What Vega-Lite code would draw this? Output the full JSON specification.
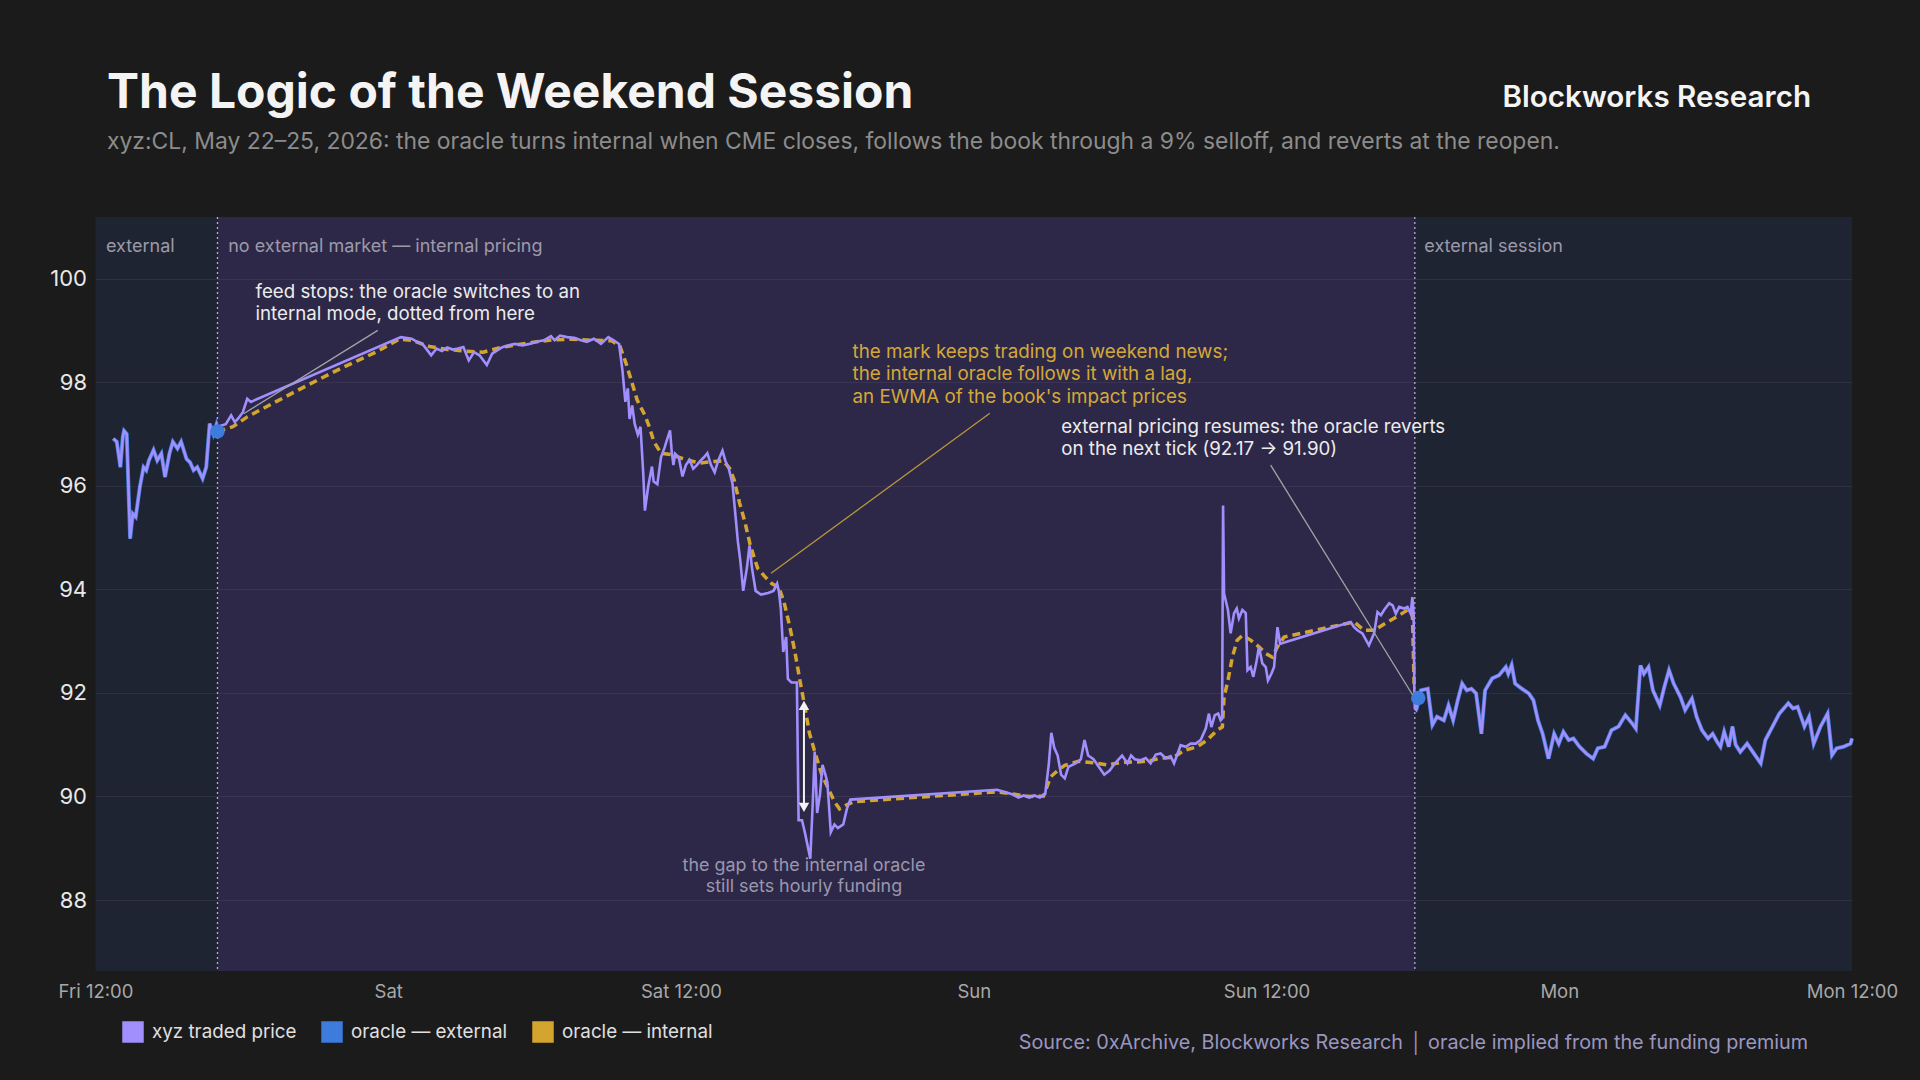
{
  "$schema": "https://vega.github.io/schema/vega-lite/v6.json",
  "width": 1756.5,
  "height": 754,
  "autosize": {"type": "none"},
  "padding": {"left": 95.5, "top": 217, "right": 68, "bottom": 109},
  "background": "#1b1b1b",
  "title": {
    "text": "The Logic of the Weekend Session",
    "subtitle": "xyz:CL, May 22\u201325, 2026: the oracle turns internal when CME closes, follows the book through a 9% selloff, and reverts at the reopen.",
    "anchor": "start",
    "frame": "group",
    "dx": 11.5,
    "dy": 133,
    "offset": 62,
    "font": "Inter",
    "fontSize": 48,
    "fontWeight": 700,
    "color": "#f4f4f4",
    "subtitleFont": "Inter",
    "subtitleFontSize": 22.9,
    "subtitleColor": "#8c8c8c",
    "subtitlePadding": 13
  },
  "datasets": {
    "price": [
      {"h": 0.73, "v": 96.91}, {"h": 0.87, "v": 96.85}, {"h": 0.95, "v": 96.6}, {"h": 1.02, "v": 96.36},
      {"h": 1.12, "v": 96.95}, {"h": 1.17, "v": 97.06}, {"h": 1.28, "v": 97.0}, {"h": 1.42, "v": 94.98},
      {"h": 1.53, "v": 95.46}, {"h": 1.65, "v": 95.4}, {"h": 1.82, "v": 95.98}, {"h": 1.97, "v": 96.36},
      {"h": 2.08, "v": 96.3}, {"h": 2.19, "v": 96.49}, {"h": 2.38, "v": 96.69}, {"h": 2.53, "v": 96.49},
      {"h": 2.7, "v": 96.62}, {"h": 2.85, "v": 96.17}, {"h": 3.03, "v": 96.62}, {"h": 3.17, "v": 96.85},
      {"h": 3.36, "v": 96.72}, {"h": 3.51, "v": 96.85}, {"h": 3.73, "v": 96.52}, {"h": 3.88, "v": 96.45},
      {"h": 4.02, "v": 96.3}, {"h": 4.17, "v": 96.36}, {"h": 4.39, "v": 96.14}, {"h": 4.54, "v": 96.36},
      {"h": 4.68, "v": 97.2}, {"h": 4.83, "v": 97.0}, {"h": 4.95, "v": 97.17}, {"h": 5.0, "v": 97.05},
      {"h": 5.05, "v": 97.15}, {"h": 5.34, "v": 97.19}, {"h": 5.56, "v": 97.36}, {"h": 5.71, "v": 97.23},
      {"h": 5.85, "v": 97.3}, {"h": 6.04, "v": 97.42}, {"h": 6.22, "v": 97.68}, {"h": 6.37, "v": 97.62},
      {"h": 6.51, "v": 97.65}, {"h": 12.52, "v": 98.87}, {"h": 12.96, "v": 98.84}, {"h": 13.18, "v": 98.78},
      {"h": 13.4, "v": 98.74}, {"h": 13.6, "v": 98.62}, {"h": 13.76, "v": 98.52}, {"h": 13.98, "v": 98.65},
      {"h": 14.2, "v": 98.6}, {"h": 14.42, "v": 98.67}, {"h": 14.64, "v": 98.63}, {"h": 14.86, "v": 98.65},
      {"h": 15.08, "v": 98.68}, {"h": 15.3, "v": 98.42}, {"h": 15.52, "v": 98.58}, {"h": 15.74, "v": 98.52},
      {"h": 16.04, "v": 98.33}, {"h": 16.26, "v": 98.55}, {"h": 16.48, "v": 98.62}, {"h": 16.7, "v": 98.68},
      {"h": 16.91, "v": 98.71}, {"h": 17.2, "v": 98.74}, {"h": 17.5, "v": 98.71}, {"h": 17.79, "v": 98.74},
      {"h": 18.08, "v": 98.78}, {"h": 18.38, "v": 98.81}, {"h": 18.67, "v": 98.89}, {"h": 18.82, "v": 98.81},
      {"h": 19.04, "v": 98.9}, {"h": 19.33, "v": 98.87}, {"h": 19.62, "v": 98.86}, {"h": 19.9, "v": 98.81},
      {"h": 20.14, "v": 98.78}, {"h": 20.43, "v": 98.84}, {"h": 20.72, "v": 98.74}, {"h": 21.02, "v": 98.87},
      {"h": 21.24, "v": 98.81}, {"h": 21.46, "v": 98.74}, {"h": 21.6, "v": 98.23}, {"h": 21.72, "v": 97.62},
      {"h": 21.82, "v": 97.88}, {"h": 21.89, "v": 97.29}, {"h": 22.0, "v": 97.55}, {"h": 22.1, "v": 97.2},
      {"h": 22.23, "v": 96.99}, {"h": 22.34, "v": 97.14}, {"h": 22.45, "v": 96.26}, {"h": 22.52, "v": 95.52},
      {"h": 22.66, "v": 96.0}, {"h": 22.81, "v": 96.37}, {"h": 22.88, "v": 96.08}, {"h": 23.03, "v": 96.03},
      {"h": 23.18, "v": 96.55}, {"h": 23.33, "v": 96.74}, {"h": 23.4, "v": 96.85}, {"h": 23.55, "v": 97.07},
      {"h": 23.62, "v": 96.66}, {"h": 23.69, "v": 96.4}, {"h": 23.76, "v": 96.62}, {"h": 23.91, "v": 96.55},
      {"h": 24.06, "v": 96.18}, {"h": 24.2, "v": 96.4}, {"h": 24.35, "v": 96.5}, {"h": 24.5, "v": 96.33},
      {"h": 24.65, "v": 96.4}, {"h": 24.79, "v": 96.48}, {"h": 24.94, "v": 96.55}, {"h": 25.08, "v": 96.63},
      {"h": 25.23, "v": 96.4}, {"h": 25.38, "v": 96.26}, {"h": 25.52, "v": 96.48}, {"h": 25.7, "v": 96.68},
      {"h": 25.82, "v": 96.48}, {"h": 25.96, "v": 96.33}, {"h": 26.11, "v": 96.04}, {"h": 26.23, "v": 95.44},
      {"h": 26.33, "v": 94.93}, {"h": 26.43, "v": 94.56}, {"h": 26.55, "v": 93.97}, {"h": 26.7, "v": 94.41},
      {"h": 26.81, "v": 94.85}, {"h": 26.91, "v": 94.41}, {"h": 27.06, "v": 93.97}, {"h": 27.28, "v": 93.9},
      {"h": 27.57, "v": 93.93}, {"h": 27.79, "v": 93.97}, {"h": 27.94, "v": 94.11}, {"h": 28.01, "v": 93.97},
      {"h": 28.09, "v": 93.64}, {"h": 28.19, "v": 92.79}, {"h": 28.31, "v": 93.08}, {"h": 28.38, "v": 92.27},
      {"h": 28.53, "v": 92.2}, {"h": 28.75, "v": 92.2}, {"h": 28.82, "v": 89.54}, {"h": 28.96, "v": 89.54},
      {"h": 29.08, "v": 89.3}, {"h": 29.3, "v": 88.8}, {"h": 29.41, "v": 89.98}, {"h": 29.48, "v": 90.87},
      {"h": 29.58, "v": 89.68}, {"h": 29.7, "v": 90.05}, {"h": 29.8, "v": 90.61}, {"h": 29.92, "v": 90.42},
      {"h": 30.0, "v": 90.27}, {"h": 30.14, "v": 89.31}, {"h": 30.29, "v": 89.46}, {"h": 30.43, "v": 89.39},
      {"h": 30.65, "v": 89.46}, {"h": 30.8, "v": 89.76}, {"h": 30.94, "v": 89.94}, {"h": 36.95, "v": 90.13},
      {"h": 37.24, "v": 90.09}, {"h": 37.54, "v": 90.05}, {"h": 37.83, "v": 89.98}, {"h": 38.05, "v": 90.02},
      {"h": 38.27, "v": 89.98}, {"h": 38.49, "v": 90.02}, {"h": 38.71, "v": 89.98}, {"h": 38.93, "v": 90.05},
      {"h": 39.08, "v": 90.64}, {"h": 39.18, "v": 91.23}, {"h": 39.3, "v": 90.94}, {"h": 39.44, "v": 90.79},
      {"h": 39.58, "v": 90.42}, {"h": 39.73, "v": 90.35}, {"h": 39.88, "v": 90.57}, {"h": 40.17, "v": 90.64},
      {"h": 40.39, "v": 90.72}, {"h": 40.54, "v": 91.09}, {"h": 40.69, "v": 90.79}, {"h": 40.91, "v": 90.72},
      {"h": 41.13, "v": 90.57}, {"h": 41.35, "v": 90.42}, {"h": 41.57, "v": 90.5}, {"h": 41.79, "v": 90.64},
      {"h": 42.08, "v": 90.79}, {"h": 42.3, "v": 90.64}, {"h": 42.45, "v": 90.79}, {"h": 42.6, "v": 90.72},
      {"h": 42.84, "v": 90.7}, {"h": 43.05, "v": 90.74}, {"h": 43.25, "v": 90.64}, {"h": 43.46, "v": 90.81},
      {"h": 43.66, "v": 90.83}, {"h": 43.87, "v": 90.74}, {"h": 44.07, "v": 90.78}, {"h": 44.21, "v": 90.64},
      {"h": 44.48, "v": 90.99}, {"h": 44.69, "v": 90.96}, {"h": 44.89, "v": 91.02}, {"h": 45.1, "v": 91.02},
      {"h": 45.3, "v": 91.09}, {"h": 45.51, "v": 91.31}, {"h": 45.64, "v": 91.6}, {"h": 45.74, "v": 91.34},
      {"h": 45.88, "v": 91.57}, {"h": 46.02, "v": 91.6}, {"h": 46.12, "v": 91.47}, {"h": 46.18, "v": 91.5},
      {"h": 46.22, "v": 95.62}, {"h": 46.26, "v": 93.92}, {"h": 46.42, "v": 93.6}, {"h": 46.53, "v": 93.15},
      {"h": 46.67, "v": 93.54}, {"h": 46.78, "v": 93.63}, {"h": 46.87, "v": 93.44}, {"h": 47.01, "v": 93.6},
      {"h": 47.15, "v": 93.54}, {"h": 47.22, "v": 92.44}, {"h": 47.35, "v": 92.5}, {"h": 47.46, "v": 92.31},
      {"h": 47.6, "v": 92.63}, {"h": 47.69, "v": 92.89}, {"h": 47.83, "v": 92.57}, {"h": 47.97, "v": 92.5},
      {"h": 48.06, "v": 92.24}, {"h": 48.2, "v": 92.37}, {"h": 48.31, "v": 92.5}, {"h": 48.45, "v": 93.27},
      {"h": 48.56, "v": 92.95}, {"h": 51.45, "v": 93.37}, {"h": 51.59, "v": 93.27}, {"h": 51.73, "v": 93.21},
      {"h": 51.93, "v": 93.15}, {"h": 52.2, "v": 92.92}, {"h": 52.41, "v": 93.15}, {"h": 52.55, "v": 93.56},
      {"h": 52.69, "v": 93.5}, {"h": 52.82, "v": 93.6}, {"h": 53.03, "v": 93.73}, {"h": 53.17, "v": 93.69},
      {"h": 53.3, "v": 93.53}, {"h": 53.44, "v": 93.66}, {"h": 53.64, "v": 93.63}, {"h": 53.78, "v": 93.66},
      {"h": 53.91, "v": 93.53}, {"h": 53.98, "v": 93.85}, {"h": 54.03, "v": 93.53}, {"h": 54.06, "v": 92.05},
      {"h": 54.08, "v": 91.7}, {"h": 54.14, "v": 91.67}, {"h": 54.33, "v": 92.05}, {"h": 54.61, "v": 92.08},
      {"h": 54.8, "v": 91.38}, {"h": 54.99, "v": 91.54}, {"h": 55.27, "v": 91.47}, {"h": 55.46, "v": 91.76},
      {"h": 55.65, "v": 91.47}, {"h": 55.84, "v": 91.86}, {"h": 56.02, "v": 92.18}, {"h": 56.21, "v": 92.05},
      {"h": 56.4, "v": 92.08}, {"h": 56.59, "v": 91.99}, {"h": 56.81, "v": 91.21}, {"h": 56.96, "v": 92.05},
      {"h": 57.25, "v": 92.28}, {"h": 57.53, "v": 92.34}, {"h": 57.81, "v": 92.5}, {"h": 57.91, "v": 92.37},
      {"h": 58.05, "v": 92.54}, {"h": 58.19, "v": 92.18}, {"h": 58.47, "v": 92.08}, {"h": 58.75, "v": 91.99},
      {"h": 58.94, "v": 91.86}, {"h": 59.13, "v": 91.47}, {"h": 59.32, "v": 91.21}, {"h": 59.56, "v": 90.73},
      {"h": 59.79, "v": 91.21}, {"h": 59.98, "v": 91.02}, {"h": 60.17, "v": 91.25}, {"h": 60.39, "v": 91.09},
      {"h": 60.58, "v": 91.12}, {"h": 60.83, "v": 90.96}, {"h": 61.11, "v": 90.83}, {"h": 61.39, "v": 90.73},
      {"h": 61.58, "v": 90.93}, {"h": 61.86, "v": 90.96}, {"h": 62.14, "v": 91.28}, {"h": 62.43, "v": 91.35},
      {"h": 62.71, "v": 91.57}, {"h": 62.99, "v": 91.41}, {"h": 63.14, "v": 91.31}, {"h": 63.33, "v": 92.53},
      {"h": 63.47, "v": 92.37}, {"h": 63.66, "v": 92.5}, {"h": 63.84, "v": 92.05}, {"h": 64.12, "v": 91.76},
      {"h": 64.31, "v": 92.12}, {"h": 64.5, "v": 92.44}, {"h": 64.69, "v": 92.18}, {"h": 64.97, "v": 91.92},
      {"h": 65.16, "v": 91.67}, {"h": 65.44, "v": 91.89}, {"h": 65.63, "v": 91.54}, {"h": 65.85, "v": 91.28},
      {"h": 66.1, "v": 91.12}, {"h": 66.29, "v": 91.21}, {"h": 66.48, "v": 91.05}, {"h": 66.61, "v": 90.96},
      {"h": 66.76, "v": 91.25}, {"h": 66.95, "v": 90.96}, {"h": 67.1, "v": 91.35}, {"h": 67.23, "v": 91.0},
      {"h": 67.42, "v": 90.86}, {"h": 67.7, "v": 91.02}, {"h": 67.98, "v": 90.83}, {"h": 68.26, "v": 90.64},
      {"h": 68.45, "v": 91.09}, {"h": 68.74, "v": 91.35}, {"h": 69.02, "v": 91.6}, {"h": 69.39, "v": 91.8},
      {"h": 69.58, "v": 91.7}, {"h": 69.77, "v": 91.73}, {"h": 70.05, "v": 91.35}, {"h": 70.24, "v": 91.54},
      {"h": 70.43, "v": 91.02}, {"h": 70.71, "v": 91.35}, {"h": 71.0, "v": 91.6}, {"h": 71.18, "v": 90.8},
      {"h": 71.37, "v": 90.93}, {"h": 71.65, "v": 90.96}, {"h": 71.94, "v": 91.02}, {"h": 72.0, "v": 91.12}
    ],
    "internal": [
      {"h": 5.0, "v": 97.05}, {"h": 5.63, "v": 97.14}, {"h": 6.22, "v": 97.33}, {"h": 7.1, "v": 97.55},
      {"h": 8.56, "v": 97.91}, {"h": 10.03, "v": 98.26}, {"h": 11.49, "v": 98.58}, {"h": 12.45, "v": 98.83},
      {"h": 12.96, "v": 98.81}, {"h": 13.69, "v": 98.69}, {"h": 14.42, "v": 98.63}, {"h": 15.16, "v": 98.6},
      {"h": 15.89, "v": 98.58}, {"h": 16.62, "v": 98.67}, {"h": 17.35, "v": 98.73}, {"h": 18.09, "v": 98.78},
      {"h": 18.82, "v": 98.82}, {"h": 19.55, "v": 98.83}, {"h": 20.28, "v": 98.81}, {"h": 21.16, "v": 98.8},
      {"h": 21.5, "v": 98.69}, {"h": 21.75, "v": 98.36}, {"h": 22.01, "v": 97.96}, {"h": 22.2, "v": 97.66},
      {"h": 22.52, "v": 97.36}, {"h": 22.7, "v": 97.14}, {"h": 22.89, "v": 96.85}, {"h": 23.18, "v": 96.63},
      {"h": 23.62, "v": 96.6}, {"h": 24.21, "v": 96.5}, {"h": 24.79, "v": 96.44}, {"h": 25.38, "v": 96.47},
      {"h": 25.74, "v": 96.48}, {"h": 26.0, "v": 96.33}, {"h": 26.18, "v": 96.11}, {"h": 26.4, "v": 95.67},
      {"h": 26.62, "v": 95.3}, {"h": 26.84, "v": 94.85}, {"h": 27.14, "v": 94.41}, {"h": 27.43, "v": 94.25},
      {"h": 27.72, "v": 94.11}, {"h": 28.01, "v": 94.04}, {"h": 28.23, "v": 93.74}, {"h": 28.45, "v": 93.3},
      {"h": 28.67, "v": 92.79}, {"h": 28.89, "v": 92.2}, {"h": 29.07, "v": 91.75}, {"h": 29.26, "v": 91.23},
      {"h": 29.48, "v": 90.87}, {"h": 29.77, "v": 90.42}, {"h": 30.06, "v": 90.13}, {"h": 30.29, "v": 89.9},
      {"h": 30.5, "v": 89.76}, {"h": 30.8, "v": 89.84}, {"h": 31.09, "v": 89.9}, {"h": 36.95, "v": 90.09},
      {"h": 37.54, "v": 90.05}, {"h": 38.27, "v": 90.0}, {"h": 38.86, "v": 90.01}, {"h": 39.15, "v": 90.38},
      {"h": 39.44, "v": 90.5}, {"h": 39.73, "v": 90.6}, {"h": 40.3, "v": 90.68}, {"h": 40.9, "v": 90.65},
      {"h": 41.49, "v": 90.61}, {"h": 42.08, "v": 90.66}, {"h": 42.84, "v": 90.67}, {"h": 43.3, "v": 90.7},
      {"h": 43.66, "v": 90.74}, {"h": 44.21, "v": 90.76}, {"h": 44.62, "v": 90.89}, {"h": 45.16, "v": 90.96},
      {"h": 45.57, "v": 91.09}, {"h": 45.98, "v": 91.28}, {"h": 46.19, "v": 91.34}, {"h": 46.26, "v": 91.92},
      {"h": 46.42, "v": 92.24}, {"h": 46.6, "v": 92.69}, {"h": 46.8, "v": 93.02}, {"h": 47.01, "v": 93.11},
      {"h": 47.35, "v": 93.02}, {"h": 47.69, "v": 92.89}, {"h": 47.97, "v": 92.76}, {"h": 48.24, "v": 92.69},
      {"h": 48.45, "v": 92.89}, {"h": 48.72, "v": 93.08}, {"h": 51.59, "v": 93.37}, {"h": 52.0, "v": 93.21},
      {"h": 52.41, "v": 93.21}, {"h": 52.96, "v": 93.37}, {"h": 53.44, "v": 93.5}, {"h": 53.78, "v": 93.6},
      {"h": 53.98, "v": 93.55}, {"h": 54.05, "v": 92.17}
    ]
  },
  "layer": [
    {
      "data": {"values": [{"h": 0, "h2": 5.0}, {"h": 54.08, "h2": 72}]},
      "mark": {"type": "rect", "color": "#1f2433"},
      "encoding": {
        "x": {"field": "h", "type": "quantitative", "scale": {"domain": [0, 72], "nice": false, "zero": false},
          "axis": {"values": [0, 12, 24, 36, 48, 60, 72],
            "labelExpr": "['Fri 12:00','Sat','Sat 12:00','Sun','Sun 12:00','Mon','Mon 12:00'][round(datum.value/12)]",
            "title": null, "grid": false, "domain": false, "ticks": false, "labelFont": "Inter",
            "labelFontSize": 18.5, "labelColor": "#a8a8a8", "labelPadding": 11, "labelFlush": false}},
        "x2": {"field": "h2"}
      }
    },
    {
      "data": {"values": [{"h": 5.0, "h2": 54.08}]},
      "mark": {"type": "rect", "color": "#2e2848"},
      "encoding": {
        "x": {"field": "h", "type": "quantitative"},
        "x2": {"field": "h2"}
      }
    },
    {
      "data": {"values": [{"h": 5.0}, {"h": 54.08}]},
      "mark": {"type": "rule", "color": "#b4b2c4", "strokeWidth": 1.3, "strokeDash": [2, 3]},
      "encoding": {"x": {"field": "h", "type": "quantitative"}}
    },
    {
      "data": {"name": "price"},
      "transform": [{"filter": "datum.h <= 5.0"}],
      "mark": {"type": "line", "strokeWidth": 4},
      "encoding": {
        "x": {"field": "h", "type": "quantitative"},
        "y": {"field": "v", "type": "quantitative"},
        "color": {"datum": "oracle \u2014 external"}
      }
    },
    {
      "data": {"name": "price"},
      "transform": [{"filter": "datum.h >= 54.14"}],
      "mark": {"type": "line", "strokeWidth": 4},
      "encoding": {
        "x": {"field": "h", "type": "quantitative"},
        "y": {"field": "v", "type": "quantitative"},
        "color": {"datum": "oracle \u2014 external"}
      }
    },
    {
      "data": {"name": "internal"},
      "mark": {"type": "line", "strokeWidth": 3.5, "strokeDash": [8, 5]},
      "encoding": {
        "x": {"field": "h", "type": "quantitative"},
        "y": {"field": "v", "type": "quantitative"},
        "color": {"datum": "oracle \u2014 internal"}
      }
    },
    {
      "data": {"name": "price"},
      "mark": {"type": "line", "strokeWidth": 2.6},
      "encoding": {
        "x": {"field": "h", "type": "quantitative"},
        "y": {"field": "v", "type": "quantitative",
          "scale": {"domain": [86.63, 101.19], "nice": false, "zero": false},
          "axis": {"values": [88, 90, 92, 94, 96, 98, 100], "title": null, "domain": false, "ticks": false,
            "grid": true, "gridColor": "#ffffff", "gridOpacity": 0.06, "labelFont": "Inter",
            "labelFontSize": 22, "labelColor": "#e8e8e8", "labelPadding": 9, "zindex": 1}},
        "color": {"datum": "xyz traded price", "type": "nominal",
          "scale": {"domain": ["xyz traded price", "oracle \u2014 external", "oracle \u2014 internal"],
            "range": ["#a08ffc", "#3d7bdc", "#d4a52e"]},
          "legend": {"title": null, "orient": "none", "legendX": 26.5, "legendY": 804, "direction": "horizontal",
            "symbolType": "square", "symbolSize": 400, "labelFont": "Inter", "labelFontSize": 18.8,
            "labelColor": "#e0e0e0", "columnPadding": 22, "labelOffset": 8,
            "encode": {"symbols": {"update": {"fill": {"scale": "color", "field": "value"},
              "stroke": {"value": "transparent"}, "opacity": {"value": 1}}}}}
        }
      }
    },
    {
      "data": {"values": [{"h": 5.0, "v": 97.05}, {"h": 54.22, "v": 91.9}]},
      "mark": {"type": "point", "filled": true, "size": 210, "opacity": 1},
      "encoding": {
        "x": {"field": "h", "type": "quantitative"},
        "y": {"field": "v", "type": "quantitative"},
        "color": {"datum": "oracle \u2014 external"}
      }
    },
    {
      "data": {"values": [{"h": 11.57, "v": 99.0, "h2": 6.07, "v2": 97.39}, {"h": 48.17, "v": 96.4, "h2": 53.99, "v2": 91.96}]},
      "mark": {"type": "rule", "color": "#a3a3a8", "strokeWidth": 1.3},
      "encoding": {
        "x": {"field": "h", "type": "quantitative"},
        "y": {"field": "v", "type": "quantitative"},
        "x2": {"field": "h2"},
        "y2": {"field": "v2"}
      }
    },
    {
      "data": {"values": [{"h": 36.66, "v": 97.4, "h2": 27.69, "v2": 94.31}]},
      "mark": {"type": "rule", "color": "#b8963a", "strokeWidth": 1.3},
      "encoding": {
        "x": {"field": "h", "type": "quantitative"},
        "y": {"field": "v", "type": "quantitative"},
        "x2": {"field": "h2"},
        "y2": {"field": "v2"}
      }
    },
    {
      "data": {"values": [{"h": 29.04, "v": 91.7, "v2": 89.85}]},
      "mark": {"type": "rule", "color": "#f2f2f2", "strokeWidth": 2},
      "encoding": {
        "x": {"field": "h", "type": "quantitative"},
        "y": {"field": "v", "type": "quantitative"},
        "y2": {"field": "v2"}
      }
    },
    {
      "data": {"values": [{"h": 29.04, "v": 91.76}]},
      "mark": {"type": "point", "shape": "triangle-up", "filled": true, "size": 110, "color": "#f2f2f2", "opacity": 1},
      "encoding": {
        "x": {"field": "h", "type": "quantitative"},
        "y": {"field": "v", "type": "quantitative"}
      }
    },
    {
      "data": {"values": [{"h": 29.04, "v": 89.79}]},
      "mark": {"type": "point", "shape": "triangle-down", "filled": true, "size": 110, "color": "#f2f2f2", "opacity": 1},
      "encoding": {
        "x": {"field": "h", "type": "quantitative"},
        "y": {"field": "v", "type": "quantitative"}
      }
    },
    {
      "data": {"values": [
        {"h": 0.43, "v": 100.51, "t": "external"},
        {"h": 5.44, "v": 100.51, "t": "no external market \u2014 internal pricing"},
        {"h": 54.47, "v": 100.51, "t": "external session"}
      ]},
      "mark": {"type": "text", "align": "left", "baseline": "alphabetic", "font": "Inter", "fontSize": 18, "color": "#9c9aa8"},
      "encoding": {
        "x": {"field": "h", "type": "quantitative"},
        "y": {"field": "v", "type": "quantitative"},
        "text": {"field": "t", "type": "nominal"}
      }
    },
    {
      "data": {"values": [
        {"h": 6.56, "v": 99.63, "t": ["feed stops: the oracle switches to an", "internal mode, dotted from here"]},
        {"h": 39.59, "v": 97.02, "t": ["external pricing resumes: the oracle reverts", "on the next tick (92.17 \u2192 91.90)"]}
      ]},
      "mark": {"type": "text", "align": "left", "baseline": "alphabetic", "font": "Inter", "fontSize": 18.7, "lineHeight": 22.3, "color": "#ececec"},
      "encoding": {
        "x": {"field": "h", "type": "quantitative"},
        "y": {"field": "v", "type": "quantitative"},
        "text": {"field": "t", "type": "nominal"}
      }
    },
    {
      "data": {"values": [
        {"h": 31.03, "v": 98.47, "t": ["the mark keeps trading on weekend news;", "the internal oracle follows it with a lag,", "an EWMA of the book's impact prices"]}
      ]},
      "mark": {"type": "text", "align": "left", "baseline": "alphabetic", "font": "Inter", "fontSize": 18.8, "lineHeight": 22.6, "color": "#d4a838"},
      "encoding": {
        "x": {"field": "h", "type": "quantitative"},
        "y": {"field": "v", "type": "quantitative"},
        "text": {"field": "t", "type": "nominal"}
      }
    },
    {
      "data": {"values": [
        {"h": 29.04, "v": 88.57, "t": ["the gap to the internal oracle", "still sets hourly funding"]}
      ]},
      "mark": {"type": "text", "align": "center", "baseline": "alphabetic", "font": "Inter", "fontSize": 17.9, "lineHeight": 21, "color": "#9a97ad"},
      "encoding": {
        "x": {"field": "h", "type": "quantitative"},
        "y": {"field": "v", "type": "quantitative"},
        "text": {"field": "t", "type": "nominal"}
      }
    },
    {
      "data": {"values": [{"h": 70.32, "v": 103.31, "t": "Blockworks Research"}]},
      "mark": {"type": "text", "align": "right", "baseline": "alphabetic", "font": "Inter", "fontSize": 29.6, "fontWeight": 600, "color": "#f4f4f4"},
      "encoding": {
        "x": {"field": "h", "type": "quantitative"},
        "y": {"field": "v", "type": "quantitative"},
        "text": {"field": "t", "type": "nominal"}
      }
    },
    {
      "data": {"values": [{"h": 70.2, "v": 85.12, "t": "Source: 0xArchive, Blockworks Research  \u2502  oracle implied from the funding premium"}]},
      "mark": {"type": "text", "align": "right", "baseline": "alphabetic", "font": "Inter", "fontSize": 19.8, "color": "#9b96c0"},
      "encoding": {
        "x": {"field": "h", "type": "quantitative"},
        "y": {"field": "v", "type": "quantitative"},
        "text": {"field": "t", "type": "nominal"}
      }
    }
  ],
  "config": {
    "view": {"stroke": null},
    "font": "Inter"
  }
}
